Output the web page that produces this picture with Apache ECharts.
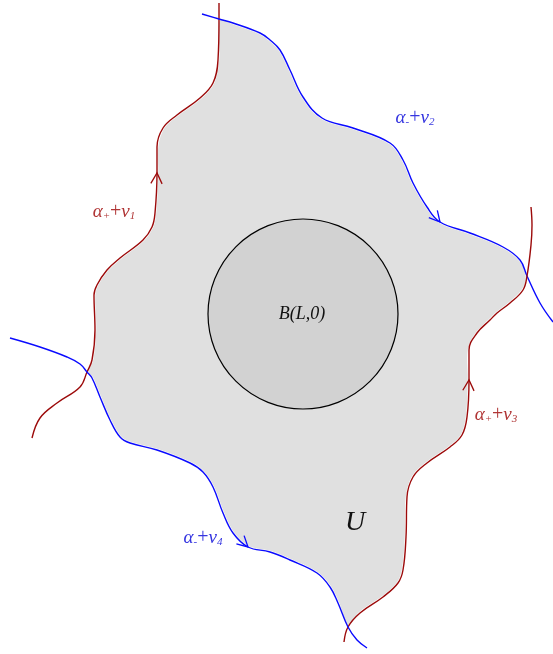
<!DOCTYPE html>
<head>
    <title>ECharts</title>
    <meta charset="UTF-8">
    <style>
        html, body { margin: 0; padding: 0; background: #fff; }
    </style>
</head>
<body>
    <div id="main" style="width:553px;height:654px;"></div>

    <script src="https://cdn.jsdelivr.net/npm/echarts@6/dist/echarts.min.js"></script>
    <script type="text/javascript">
    // curve points, in picture coordinates (y grows downwards), in direction of travel
    var red1 = [[32,438],[40,418],[57,403],[80,387],[87,372],[92,360],[95,330],[94,295],[97,285],[107,270],
        [120,258],[143,240],[152,227],[155,213],[157,173],[157,147],[163,128],[177,115],[200,98],[213,83],
        [218,60],[219,19],[219,3]];
    var blue2 = [[202,14],[219,19],[233,23],[260,33],[270,40],[280,50],[290,70],[303,97],[322,118],[353,128],
        [390,143],[403,160],[413,183],[427,207],[440,222],[470,233],[503,247],[520,260],[527,276],[540,303],[553,322]];
    var red3 = [[344,642],[348,627],[360,613],[383,597],[398,583],[403,570],[406,537],[407,497],[413,477],[427,463],
        [450,447],[462,435],[467,417],[469,380],[469,350],[477,333],[490,320],[497,313],[510,303],[523,290],
        [527,276],[531,245],[532,225],[531,207]];
    var blue4 = [[10,338],[40,347],[67,357],[80,364],[87,372],[92,378],[100,397],[110,420],[120,437],[130,443],
        [157,450],[190,463],[203,472],[213,487],[223,513],[233,533],[248,547],[270,552],[290,560],[317,573],
        [330,587],[338,603],[348,627],[357,640],[367,648]];

    // where the curves cross: red1/blue2, blue2/red3, red3/blue4, blue4/red1
    var crossings = [[219,19],[527,276],[348,627],[87,372]];

    // arrow heads sit on these curve points
    var arrowTips = [[157,173],[440,222],[469,380],[248,547]];

    // ball B(L,0): centre and radius
    var ball = [303,314,95];

    var labelTexts = ['{a|α}{s|+}{p|+}{a|v}{s|1}', '{a|α}{s|-}{p|+}{a|v}{s|2}',
                      '{a|α}{s|+}{p|+}{a|v}{s|3}', '{a|α}{s|-}{p|+}{a|v}{s|4}'];
    var labelPos = [[114,212],[415,118],[496,415],[203,538]];
    var ballText = 'B(L,0)';
    var ballTextPos = [302,314];
    var regionText = 'U';
    var regionTextPos = [355,523];

    var RED = '#9c0a0a', BLUE = '#0a0aff';
    var RED_TXT = '#b03535', BLUE_TXT = '#3535e0';

    function idx(curve, p) {
        for (var i = 0; i < curve.length; i++) {
            if (curve[i][0] == p[0] && curve[i][1] == p[1]) return i;
        }
        return -1;
    }

    // boundary of U: red1 up, blue2 right, red3 back down, blue4 back left
    var region = [];
    region = region.concat(red1.slice(idx(red1, crossings[3]), idx(red1, crossings[0]) + 1));
    region = region.concat(blue2.slice(idx(blue2, crossings[0]) + 1, idx(blue2, crossings[1]) + 1));
    region = region.concat(red3.slice(idx(red3, crossings[2]), idx(red3, crossings[1])).reverse());
    region = region.concat(blue4.slice(idx(blue4, crossings[3]) + 1, idx(blue4, crossings[2])).reverse());

    var curves = [red1, blue2, red3, blue4];
    var curveColors = [RED, BLUE, RED, BLUE];

    var arrowData = [];
    arrowTips.forEach(function (t) {
        for (var c = 0; c < curves.length; c++) {
            var i = idx(curves[c], t);
            if (i > 0) {
                arrowData.push([t[0], t[1], curves[c][i - 1][0], curves[c][i - 1][1], c]);
                break;
            }
        }
    });

    var myChart = echarts.init(document.getElementById('main'));

    var lineSeries = curves.map(function (c, k) {
        return {
            type: 'line',
            data: c,
            smooth: 0.4,
            showSymbol: false,
            silent: true,
            z: 5,
            lineStyle: { color: curveColors[k], width: 1.4 }
        };
    });

    var option = {
        animation: false,
        grid: { left: 0, right: 0, top: 0, bottom: 0 },
        xAxis: { type: 'value', min: 0, max: 553, show: false },
        yAxis: { type: 'value', min: 0, max: 654, inverse: true, show: false },
        series: [
            {
                type: 'custom',
                z: 1,
                silent: true,
                data: [0],
                renderItem: function (params, api) {
                    var pts = region.map(function (p) { return api.coord(p); });
                    return {
                        type: 'polygon',
                        shape: { points: pts, smooth: 0.4 },
                        style: { fill: '#e0e0e0', stroke: '#ffffff', lineWidth: 2.5 }
                    };
                }
            },
            {
                type: 'custom',
                z: 2,
                silent: true,
                data: [ball],
                renderItem: function (params, api) {
                    var c = api.coord([api.value(0), api.value(1)]);
                    var r = api.size([api.value(2), 0])[0];
                    return {
                        type: 'circle',
                        shape: { cx: c[0], cy: c[1], r: r },
                        style: { fill: '#d2d2d2', stroke: '#000', lineWidth: 1.2 }
                    };
                }
            }
        ].concat(lineSeries).concat([
            {
                type: 'custom',
                z: 6,
                silent: true,
                data: arrowData,
                renderItem: function (params, api) {
                    var tip = api.coord([api.value(0), api.value(1)]);
                    var prev = api.coord([api.value(2), api.value(3)]);
                    var col = curveColors[api.value(4)];
                    var ang = Math.atan2(tip[1] - prev[1], tip[0] - prev[0]);
                    var len = 12, half = 28 * Math.PI / 180;
                    var b1 = [tip[0] - len * Math.cos(ang - half), tip[1] - len * Math.sin(ang - half)];
                    var b2 = [tip[0] - len * Math.cos(ang + half), tip[1] - len * Math.sin(ang + half)];
                    return {
                        type: 'polyline',
                        shape: { points: [b1, tip, b2] },
                        style: { stroke: col, lineWidth: 1.3, fill: null }
                    };
                }
            },
            {
                type: 'custom',
                z: 7,
                silent: true,
                data: labelPos.map(function (p, i) { return [p[0], p[1], i]; }),
                renderItem: function (params, api) {
                    var i = api.value(2);
                    var p = api.coord([api.value(0), api.value(1)]);
                    var col = (i % 2 == 0) ? RED_TXT : BLUE_TXT;
                    return {
                        type: 'text',
                        x: p[0], y: p[1],
                        style: {
                            text: labelTexts[i],
                            align: 'center',
                            verticalAlign: 'middle',
                            fill: col,
                            rich: {
                                a: { fontFamily: 'Liberation Serif', fontStyle: 'italic', fontSize: 19, lineHeight: 19, fill: col },
                                p: { fontFamily: 'Liberation Serif', fontSize: 20, lineHeight: 19, fill: col },
                                s: { fontFamily: 'Liberation Serif', fontStyle: 'italic', fontSize: 11, lineHeight: 11,
                                     verticalAlign: 'bottom', fill: col }
                            }
                        }
                    };
                }
            },
            {
                type: 'custom',
                z: 7,
                silent: true,
                data: [[ballTextPos[0], ballTextPos[1], 0], [regionTextPos[0], regionTextPos[1], 1]],
                renderItem: function (params, api) {
                    var p = api.coord([api.value(0), api.value(1)]);
                    var big = api.value(2) == 1;
                    return {
                        type: 'text',
                        x: p[0], y: p[1],
                        style: {
                            text: big ? regionText : ballText,
                            align: 'center',
                            verticalAlign: 'middle',
                            fill: '#111',
                            font: 'italic ' + (big ? 28 : 18) + 'px "Liberation Serif"'
                        }
                    };
                }
            }
        ])
    };

    myChart.setOption(option);
    </script>
</body>
